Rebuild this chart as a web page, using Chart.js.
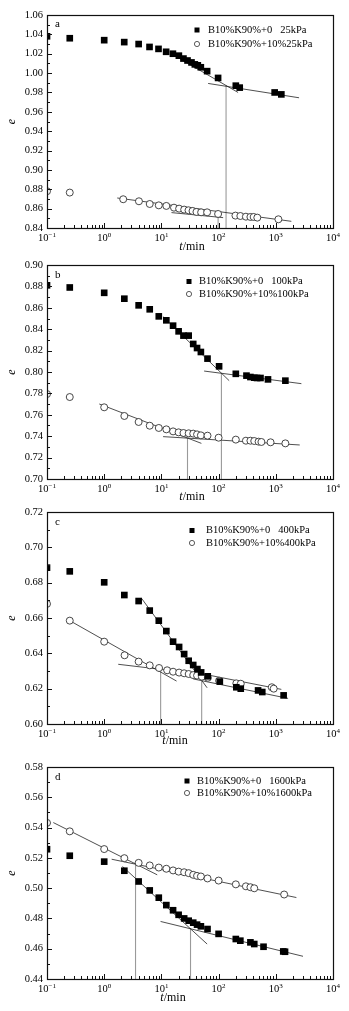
<!DOCTYPE html>
<html>
<head>
<meta charset="utf-8">
<script src="https://cdn.jsdelivr.net/npm/chart.js@4.4.0/dist/chart.umd.min.js"></script>
<style>
  body { margin: 0; background: #fff; width: 349px; height: 1011px; position: relative; overflow: hidden; }
  canvas { position: absolute; left: 0; }
</style>
</head>
<body>
<canvas id="pa" width="349" height="252" style="top:0px"></canvas>
<canvas id="pb" width="349" height="250" style="top:252px"></canvas>
<canvas id="pc" width="349" height="248" style="top:502px"></canvas>
<canvas id="pd" width="349" height="261" style="top:750px"></canvas>
<script>
// ---- data (t in min, e = void ratio) ----
const xTickExp = [-1, 0, 1, 2, 3, 4];

// a: 25 kPa
const aLabels = ['B10%K90%+0   25kPa', 'B10%K90%+10%25kPa'];
const aYTicks = [0.84, 0.86, 0.88, 0.90, 0.92, 0.94, 0.96, 0.98, 1.00, 1.02, 1.04, 1.06];
const aSqT = [0.1, 0.25, 1, 2.24, 4, 6.2, 8.9, 12.1, 15.9, 20.2, 24.3, 28.6, 33.6, 38.4, 43.3, 48.9, 63, 98, 200, 234, 955, 1250];
const aSqE = [1.038, 1.036, 1.034, 1.032, 1.030, 1.027, 1.025, 1.022, 1.020, 1.018, 1.015, 1.013, 1.011, 1.009, 1.008, 1.006, 1.002, 0.995, 0.987, 0.985, 0.980, 0.978];
const aCiT = [0.1, 0.25, 2.15, 4.05, 6.25, 9, 12.2, 16.6, 20.4, 25, 29.8, 35, 41, 49.5, 63, 98, 197, 240, 300, 360, 410, 475, 1110];
const aCiE = [0.878, 0.8766, 0.8697, 0.8676, 0.8648, 0.8634, 0.8628, 0.861, 0.860, 0.859, 0.8583, 0.8576, 0.8566, 0.8562, 0.8562, 0.8545, 0.8528, 0.8524, 0.8517, 0.8514, 0.8514, 0.8507, 0.849];
const aLineT = [[15.6, 219], [65.6, 2550], [1.69, 1870], [15, 120]];
const aLineE = [[1.0193, 0.980], [0.9893, 0.9745], [0.871, 0.8469], [0.8559, 0.8507]];
const aVertT = [135, 98];
const aVertE = [0.9876, 0.8538];

// b: 100 kPa
const bLabels = ['B10%K90%+0   100kPa', 'B10%K90%+10%100kPa'];
const bYTicks = [0.70, 0.72, 0.74, 0.76, 0.78, 0.80, 0.82, 0.84, 0.86, 0.88, 0.90];
const bSqT = [0.1, 0.25, 1, 2.25, 4, 6.25, 9, 12.2, 16, 20, 24.3, 30, 36, 42, 49, 64, 102, 200, 307, 360, 420, 470, 540, 730, 1470];
const bSqE = [0.881, 0.879, 0.874, 0.8685, 0.8623, 0.8586, 0.852, 0.8483, 0.8433, 0.838, 0.834, 0.834, 0.8262, 0.8224, 0.8187, 0.8125, 0.8053, 0.7983, 0.7966, 0.7953, 0.7947, 0.7944, 0.7944, 0.7931, 0.7919];
const bCiT = [0.1, 0.25, 1, 2.25, 4, 6.25, 9, 12.2, 16, 20, 24.3, 30, 36, 42, 49, 64, 100, 200, 300, 360, 420, 500, 560, 810, 1470];
const bCiE = [0.7794, 0.7766, 0.767, 0.7589, 0.7533, 0.7498, 0.7477, 0.7464, 0.7445, 0.7436, 0.743, 0.7427, 0.7424, 0.7417, 0.7408, 0.7405, 0.7386, 0.7368, 0.7358, 0.7358, 0.7355, 0.7349, 0.7346, 0.7343, 0.7333];
const bLineT = [[10.7, 153], [55.8, 2800], [0.82, 50], [10.7, 2620]];
const bLineE = [[0.8517, 0.7919], [0.8009, 0.7891], [0.7701, 0.7333], [0.7396, 0.7318]];
const bVertT = [112, 28.6];
const bVertE = [0.799, 0.738];

// c: 400 kPa
const cLabels = ['B10%K90%+0   400kPa', 'B10%K90%+10%400kPa'];
const cYTicks = [0.60, 0.62, 0.64, 0.66, 0.68, 0.70, 0.72];
const cSqT = [0.1, 0.25, 1, 2.25, 4, 6.25, 9, 12.2, 16, 20.4, 25, 30, 36, 42.6, 49.5, 64.6, 105, 204, 244, 490, 580, 1370];
const cSqE = [0.6885, 0.6864, 0.6802, 0.673, 0.6696, 0.6642, 0.6585, 0.6526, 0.6466, 0.6436, 0.6396, 0.6358, 0.6334, 0.6311, 0.6292, 0.627, 0.624, 0.6208, 0.620, 0.619, 0.6181, 0.6162];
const cCiT = [0.1, 0.25, 1, 2.27, 4, 6.25, 9.1, 12.6, 16, 20.4, 25, 30, 36, 42, 51, 65, 102, 204, 244, 850, 920];
const cCiE = [0.668, 0.6585, 0.6466, 0.6389, 0.6353, 0.6332, 0.6317, 0.6304, 0.6296, 0.6291, 0.6287, 0.6283, 0.6277, 0.6274, 0.6268, 0.6262, 0.6245, 0.623, 0.6228, 0.6208, 0.620];
const cLineT = [[4.5, 63], [36, 1640], [0.25, 18.4], [1.76, 17.2], [46, 1250]];
const cLineE = [[0.6711, 0.6205], [0.6255, 0.6145], [0.6585, 0.6243], [0.6338, 0.630], [0.6287, 0.6196]];
const cVertT = [9.7, 50.6];
const cVertE = [0.6311, 0.625];

// d: 1600 kPa
const dLabels = ['B10%K90%+0   1600kPa', 'B10%K90%+10%1600kPa'];
const dYTicks = [0.44, 0.46, 0.48, 0.50, 0.52, 0.54, 0.56, 0.58];
const dSqT = [0.1, 0.25, 1, 2.25, 4, 6.25, 9, 12.2, 16, 20, 25, 30, 36, 42, 49, 64, 100, 200, 240, 360, 420, 610, 1350, 1450];
const dSqE = [0.5257, 0.5214, 0.5175, 0.5115, 0.5044, 0.4985, 0.4937, 0.4888, 0.4854, 0.4824, 0.48, 0.4785, 0.4772, 0.4759, 0.4748, 0.473, 0.4698, 0.4664, 0.4653, 0.4642, 0.4631, 0.4613, 0.4582, 0.458];
const dCiT = [0.1, 0.25, 1, 2.25, 4, 6.25, 9, 12.2, 16, 20, 25, 30, 36, 42, 49, 64, 100, 200, 300, 360, 420, 1400];
const dCiE = [0.5431, 0.5375, 0.5258, 0.5198, 0.5167, 0.515, 0.5136, 0.5128, 0.5117, 0.5109, 0.5105, 0.5099, 0.5088, 0.5081, 0.5077, 0.5064, 0.505, 0.5025, 0.5012, 0.5006, 0.4999, 0.4958];
const dLineT = [[0.129, 8.45], [1.35, 2290], [2.09, 63], [9.67, 2990]];
const dLineE = [[0.5433, 0.5088], [0.5191, 0.4938], [0.5143, 0.4631], [0.478, 0.455]];
const dVertT = [3.53, 32.3];
const dVertE = [0.5169, 0.4736];

const FONT = '"Liberation Serif", "Times New Roman", serif';

function pts(ts, es) {
    return ts.map((t, i) => ({ x: t, y: es[i] }));
}

// frame, inward ticks, tick labels, titles, legend
const decor = {
    id: 'decor',
    afterDatasetsDraw(chart, args, o) {
        const ctx = chart.ctx;
        const a = chart.chartArea;
        const xs = chart.scales.x, ys = chart.scales.y;
        ctx.save();
        ctx.strokeStyle = '#111';
        ctx.fillStyle = '#000';

        // x ticks (major + minor), bottom only
        ctx.lineWidth = 1;
        ctx.beginPath();
        xTickExp.forEach(p => {
            const d = Math.pow(10, p);
            for (let k = 1; k <= 9; k++) {
                if (p === xTickExp[xTickExp.length - 1] && k > 1) break;
                const x = Math.round(xs.getPixelForValue(k * d)) + 0.5;
                const len = k === 1 ? 5 : 3;
                ctx.moveTo(x, a.bottom);
                ctx.lineTo(x, a.bottom - len);
            }
        });
        // y ticks, left only
        const yt = o.yTicks;
        yt.forEach((v, i) => {
            const y = Math.round(ys.getPixelForValue(v)) + 0.5;
            ctx.moveTo(a.left, y);
            ctx.lineTo(a.left + 5, y);
            if (i < yt.length - 1) {
                const ym = Math.round(ys.getPixelForValue((v + yt[i + 1]) / 2)) + 0.5;
                ctx.moveTo(a.left, ym);
                ctx.lineTo(a.left + 3, ym);
            }
        });
        ctx.stroke();

        // box
        ctx.lineWidth = 1.2;
        ctx.strokeRect(Math.round(a.left) + 0.5, Math.round(a.top) + 0.5,
            Math.round(a.right - a.left), Math.round(a.bottom - a.top));

        // y tick labels
        ctx.font = '10.5px ' + FONT;
        ctx.textAlign = 'right';
        ctx.textBaseline = 'middle';
        yt.forEach(v => {
            ctx.fillText(v.toFixed(2), a.left - 4, ys.getPixelForValue(v));
        });

        // x tick labels 10^n
        ctx.textBaseline = 'alphabetic';
        xTickExp.forEach(p => {
            const x = xs.getPixelForValue(Math.pow(10, p));
            const base = '10', sup = p < 0 ? '\u2212' + (-p) : String(p);
            ctx.font = '10.5px ' + FONT;
            const wb = ctx.measureText(base).width;
            ctx.font = '7px ' + FONT;
            const ws = ctx.measureText(sup).width;
            const x0 = x - (wb + ws) / 2;
            const yb = a.bottom + 13;
            ctx.textAlign = 'left';
            ctx.font = '10.5px ' + FONT;
            ctx.fillText(base, x0, yb);
            ctx.font = '7px ' + FONT;
            ctx.fillText(sup, x0 + wb, yb - 4);
        });

        // x title  t/min
        ctx.font = 'italic 12px ' + FONT;
        const wt = ctx.measureText('t').width;
        ctx.font = '12px ' + FONT;
        const wm = ctx.measureText('/min').width;
        const tx = o.xTitleX - (wt + wm) / 2;
        const ty = a.bottom + o.xTitleDy;
        ctx.textBaseline = 'middle';
        ctx.font = 'italic 12px ' + FONT;
        ctx.fillText('t', tx, ty);
        ctx.font = '12px ' + FONT;
        ctx.fillText('/min', tx + wt, ty);

        // y title  e
        ctx.save();
        ctx.translate(12, (a.top + a.bottom) / 2);
        ctx.rotate(-Math.PI / 2);
        ctx.textAlign = 'center';
        ctx.font = 'italic 12px ' + FONT;
        ctx.fillText('e', 0, 0);
        ctx.restore();

        // panel letter
        ctx.textAlign = 'left';
        ctx.font = '11px ' + FONT;
        ctx.fillText(o.letter, 55, a.top + o.letterDy);

        // legend
        const lg = o.legend;
        const labs = [chart.data.datasets[0].label, chart.data.datasets[1].label];
        ctx.fillRect(lg.mx - 2.5, a.top + lg.y1 - 2.5, 5, 5);
        ctx.beginPath();
        ctx.arc(lg.mx, a.top + lg.y2, 2.6, 0, Math.PI * 2);
        ctx.lineWidth = 0.8;
        ctx.strokeStyle = '#333';
        ctx.stroke();
        ctx.font = '10.5px ' + FONT;
        ctx.textBaseline = 'middle';
        ctx.fillText(labs[0], lg.tx, a.top + lg.y1);
        ctx.fillText(labs[1], lg.tx, a.top + lg.y2);
        ctx.restore();
    }
};

function makePanel(id, p) {
    const datasets = [
        {
            label: p.labels[0], data: pts(p.sqT, p.sqE),
            pointStyle: 'rect', pointRadius: 4.7, backgroundColor: '#000', borderWidth: 0, showLine: false
        },
        {
            label: p.labels[1], data: pts(p.ciT, p.ciE),
            pointStyle: 'circle', pointRadius: 3.5, backgroundColor: '#fff', borderColor: '#333',
            pointBorderWidth: 0.9, showLine: false
        }
    ];
    p.lineT.forEach((ts, i) => {
        datasets.push({
            label: 'fit', data: pts(ts, p.lineE[i]), showLine: true, pointRadius: 0,
            borderColor: '#222', borderWidth: 0.8
        });
    });
    p.vertT.forEach((t, i) => {
        datasets.push({
            label: 'vert', data: [{ x: t, y: p.vertE[i] }, { x: t, y: p.yTicks[0] }], showLine: true,
            pointRadius: 0, borderColor: '#9a9a9a', borderWidth: 1.1
        });
    });

    return new Chart(document.getElementById(id), {
        type: 'scatter',
        data: { datasets: datasets },
        options: {
            responsive: false,
            animation: false,
            devicePixelRatio: 1,
            layout: { padding: { top: p.padTop, right: 16, bottom: 0, left: 0 } },
            plugins: {
                legend: { display: false },
                tooltip: { enabled: false },
                decor: {
                    yTicks: p.yTicks, letter: p.letter, letterDy: p.letterDy,
                    xTitleX: p.xTitleX, xTitleDy: p.xTitleDy, legend: p.legend
                }
            },
            scales: {
                x: {
                    type: 'logarithmic', min: 0.1, max: 10000,
                    ticks: { display: false }, grid: { display: false }, border: { display: false },
                    afterFit: s => { s.height = p.xh; }
                },
                y: {
                    type: 'linear', min: p.yTicks[0], max: p.yTicks[p.yTicks.length - 1],
                    ticks: { display: false }, grid: { display: false }, border: { display: false },
                    afterFit: s => { s.width = 47; }
                }
            }
        },
        plugins: [decor]
    });
}

makePanel('pa', {
    labels: aLabels, yTicks: aYTicks, sqT: aSqT, sqE: aSqE, ciT: aCiT, ciE: aCiE,
    lineT: aLineT, lineE: aLineE, vertT: aVertT, vertE: aVertE,
    padTop: 15, xh: 24, letter: 'a', letterDy: 9, xTitleX: 192, xTitleDy: 19,
    legend: { mx: 197, tx: 208, y1: 15, y2: 29 }
});
makePanel('pb', {
    labels: bLabels, yTicks: bYTicks, sqT: bSqT, sqE: bSqE, ciT: bCiT, ciE: bCiE,
    lineT: bLineT, lineE: bLineE, vertT: bVertT, vertE: bVertE,
    padTop: 13, xh: 23, letter: 'b', letterDy: 10, xTitleX: 192, xTitleDy: 18,
    legend: { mx: 189, tx: 199, y1: 16.5, y2: 29 }
});
makePanel('pc', {
    labels: cLabels, yTicks: cYTicks, sqT: cSqT, sqE: cSqE, ciT: cCiT, ciE: cCiE,
    lineT: cLineT, lineE: cLineE, vertT: cVertT, vertE: cVertE,
    padTop: 10, xh: 26, letter: 'c', letterDy: 10, xTitleX: 175, xTitleDy: 17,
    legend: { mx: 192, tx: 206, y1: 18.5, y2: 31 }
});
makePanel('pd', {
    labels: dLabels, yTicks: dYTicks, sqT: dSqT, sqE: dSqE, ciT: dCiT, ciE: dCiE,
    lineT: dLineT, lineE: dLineE, vertT: dVertT, vertE: dVertE,
    padTop: 17, xh: 32, letter: 'd', letterDy: 10, xTitleX: 173, xTitleDy: 19,
    legend: { mx: 187, tx: 197, y1: 14, y2: 26 }
});
</script>
</body>
</html>
